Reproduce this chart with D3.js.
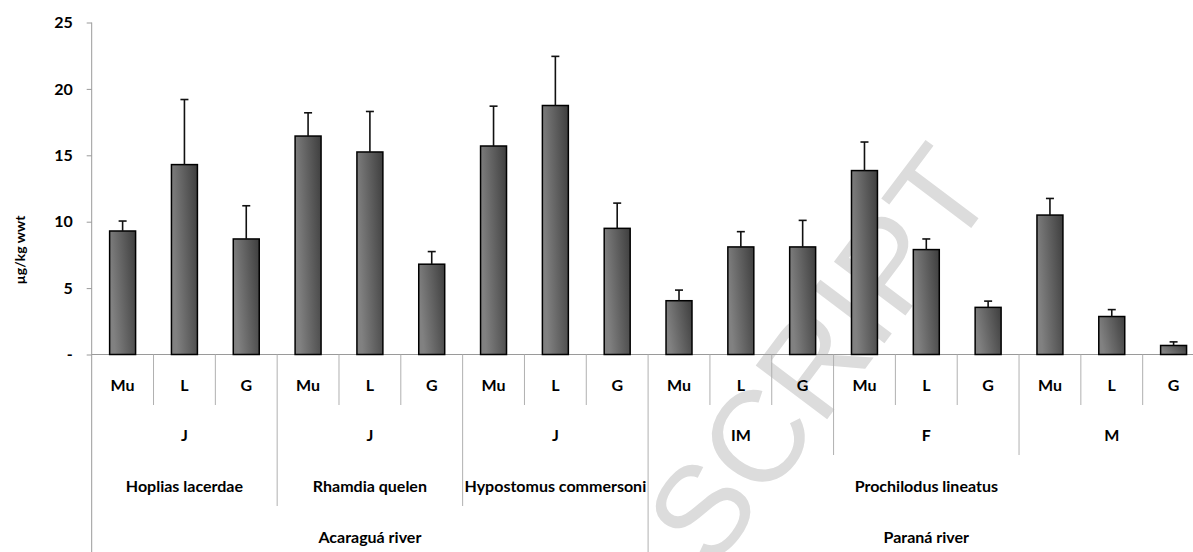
<!DOCTYPE html>
<html>
<head>
<meta charset="utf-8">
<script src="https://cdn.jsdelivr.net/npm/d3@7/dist/d3.min.js"></script>
<style>
  html, body { margin: 0; padding: 0; background: #fff; }
  svg { display: block; }
  text { font-family: Lato, "Open Sans", sans-serif; font-weight: 700; fill: #000; }
</style>
</head>
<body>
<script>
// ---------- data ----------
const tissues = ["Mu","L","G","Mu","L","G","Mu","L","G","Mu","L","G","Mu","L","G","Mu","L","G"];
const groups = ["J","J","J","IM","F","M"];
const groupSpan = [3,3,3,3,3,3];
const species = ["Hoplias lacerdae","Rhamdia quelen","Hypostomus commersoni","Prochilodus lineatus"];
const speciesSpan = [3,3,3,9];
const rivers = ["Acaraguá river","Paraná river"];
const riverSpan = [9,9];
const means = [9.3, 14.3, 8.7, 16.45, 15.25, 6.8, 15.7, 18.75, 9.5, 4.05, 8.1, 8.1, 13.85, 7.9, 3.55, 10.5, 2.86, 0.68];
const sd    = [0.75, 4.9, 2.5, 1.75, 3.05, 0.95, 3.0, 3.7, 1.9, 0.8, 1.15, 2.0, 2.15, 0.8, 0.47, 1.25, 0.52, 0.27];
const yTicks = [0,5,10,15,20,25];
const yTitle = "µg/kg wwt";
const watermark = "SCRIPT";

// ---------- layout ----------
const W = 1193, H = 552;
const svg = d3.select("body").append("svg").attr("width", W).attr("height", H);

const x = d3.scaleBand().domain(d3.range(tissues.length)).range([91.7, 1204.5]).paddingInner(0).paddingOuter(0);
const y = d3.scaleLinear().domain([0, 25]).range([354.5, 22.5]);
const step = x.step();
const barW = step * 0.42;

// watermark (behind everything)
svg.append("text")
  .attr("transform", "translate(712,572) rotate(-53)")
  .style("font-family", "'Liberation Sans', Arial, sans-serif")
  .style("font-weight", 400)
  .style("font-size", "130px")
  .style("fill", "#dcdcdc")
  .text(watermark);

// gradient
const defs = svg.append("defs");
const grad = defs.append("linearGradient").attr("id", "barGrad")
  .attr("x1", 0).attr("y1", 0.3).attr("x2", 1).attr("y2", 0);
grad.append("stop").attr("offset", "0%").attr("stop-color", "#818181");
grad.append("stop").attr("offset", "100%").attr("stop-color", "#3e3e3e");

// y axis
const yAxis = d3.axisLeft(y).tickValues(yTicks).tickSize(5).tickPadding(14)
  .tickFormat(d => d === 0 ? "-" : d);
const gy = svg.append("g").attr("transform", `translate(${x.range()[0]},0)`).call(yAxis);
gy.select(".domain").remove();
gy.selectAll(".tick line").attr("stroke", "#9a9a9a");
gy.selectAll(".tick text").style("font-size", "16px").style("font-weight", 700).attr("fill", "#000");

// axis lines
const x0 = x.range()[0];
svg.append("line").attr("x1", x0).attr("x2", x0).attr("y1", y(25)).attr("y2", H)
  .attr("stroke", "#9a9a9a").attr("stroke-width", 1);
svg.append("line").attr("x1", x0).attr("x2", x.range()[1]).attr("y1", y(0)).attr("y2", y(0))
  .attr("stroke", "#9a9a9a").attr("stroke-width", 1);

// separators
const levelBottom = [405, 455, 506, H];
const bounds = new Map();
for (let i = 1; i < tissues.length; i++) bounds.set(i, 0);
function addSpans(spans, lvl) {
  let acc = 0;
  spans.forEach(s => { acc += s; if (acc < tissues.length) bounds.set(acc, Math.max(bounds.get(acc), lvl)); });
}
addSpans(groupSpan, 1);
addSpans(speciesSpan, 2);
addSpans(riverSpan, 3);
bounds.forEach((lvl, i) => {
  const bx = x(i);
  svg.append("line").attr("x1", bx).attr("x2", bx).attr("y1", y(0)).attr("y2", levelBottom[lvl])
    .attr("stroke", "#b0b0b0").attr("stroke-width", 1);
});

// labels
const rowY = [385, 435, 486, 537];
svg.append("g").selectAll("text").data(tissues).join("text")
  .attr("x", (d, i) => x(i) + step / 2).attr("y", rowY[0]).attr("dy", "0.35em")
  .attr("text-anchor", "middle").style("font-size", "16px").text(d => d);
function spanLabels(names, spans, row) {
  let acc = 0;
  names.forEach((n, k) => {
    const a = acc, b = acc + spans[k]; acc = b;
    svg.append("text").attr("x", (x(a) + x(b - 1) + step) / 2).attr("y", rowY[row]).attr("dy", "0.35em")
      .attr("text-anchor", "middle").style("font-size", "16px").text(n);
  });
}
spanLabels(groups, groupSpan, 1);
spanLabels(species, speciesSpan, 2);
spanLabels(rivers, riverSpan, 3);

// bars
svg.append("g").selectAll("rect").data(means).join("rect")
  .attr("x", (d, i) => x(i) + (step - barW) / 2)
  .attr("y", d => y(d))
  .attr("width", barW)
  .attr("height", d => y(0) - y(d))
  .attr("fill", "url(#barGrad)")
  .attr("stroke", "#000").attr("stroke-width", 1.5);

// error bars
const eb = svg.append("g").attr("stroke", "#111").attr("stroke-width", 1.6);
means.forEach((m, i) => {
  const cx = x(i) + step / 2;
  eb.append("line").attr("x1", cx).attr("x2", cx).attr("y1", y(m)).attr("y2", y(m + sd[i]));
  eb.append("line").attr("x1", cx - 4).attr("x2", cx + 4).attr("y1", y(m + sd[i])).attr("y2", y(m + sd[i]));
});

// y title
svg.append("text")
  .attr("transform", `translate(20,${250}) rotate(-90)`)
  .attr("text-anchor", "middle").attr("dy", "0.35em")
  .style("font-size", "14px").text(yTitle);
</script>
</body>
</html>
